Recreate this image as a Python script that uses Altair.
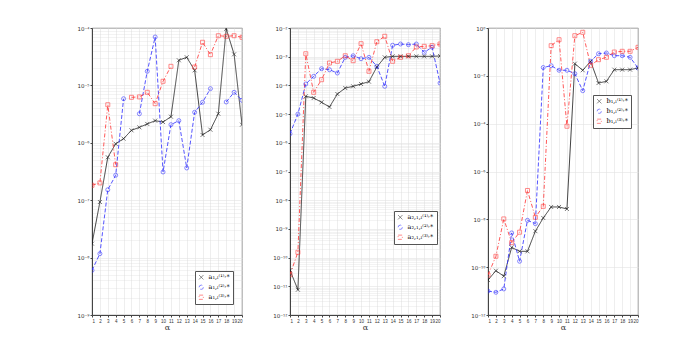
import altair as alt
import pandas as pd

alpha = list(range(1, 21))

# Panel 1 : a^(k),*_{1,L}
p1_black = [1.75e-8, 9.3e-8, 5.6e-7, 9.6e-7, 1.18e-6, 1.65e-6, 1.86e-6, 2.13e-6, 2.43e-6, 2.30e-6,
            2.85e-6, 2.74e-5, 3.09e-5, 1.83e-5, 1.37e-6, 1.69e-6, 3.21e-6, 9.7e-5, 3.48e-5, 2.07e-6]
p1_blue = [6.0e-9, 1.17e-8, 1.52e-7, 2.72e-7, 5.86e-6, None, 3.21e-6, 1.76e-5, 6.97e-5, 3.10e-7,
           2.07e-6, 2.43e-6, 3.64e-7, 3.40e-6, 5.08e-6, 8.77e-6, None, 5.14e-6, 7.58e-6, 5.50e-6]
p1_red = [1.82e-7, 2.0e-7, 4.61e-6, 4.15e-7, None, 6.2e-6, 6.3e-6, 7.58e-6, 4.8e-6, 1.18e-5,
          2.15e-5, None, None, 2.09e-5, 5.64e-5, 3.43e-5, 7.34e-5, 7.16e-5, 7.34e-5, 6.89e-5]

# Panel 2 : a^(k),*_{2,1,L}
p2_black = [3.6e-11, 7.6e-12, 4.17e-5, 3.64e-5, 2.58e-5, 1.77e-5, 5.0e-5, 8.1e-5, 9.3e-5, 1.12e-4,
            1.35e-4, 4.38e-4, 9.5e-4, 1.03e-3, 1.03e-3, 1.03e-3, 1.03e-3, 1.03e-3, 1.03e-3, 1.06e-3]
p2_blue = [2.07e-6, 1.0e-5, 1.12e-4, 2.07e-4, 3.82e-4, 3.52e-4, 2.70e-4, 9.5e-4, 1.08e-3, 8.5e-4,
           9.5e-4, 4.63e-4, 9.3e-5, 2.5e-3, 2.77e-3, 2.62e-3, 2.77e-3, 1.42e-3, 2.13e-3, 1.21e-4]
p2_red = [2.54e-11, 1.53e-10, 1.27e-3, 5.75e-5, 1.58e-4, 6.03e-4, 6.92e-4, 1.08e-3, 7.26e-4, 2.84e-3,
          3.1e-4, 3.33e-3, 5.14e-3, 6.92e-4, 9.5e-4, 1.08e-3, 2.18e-3, 2.30e-3, 2.42e-3, 2.77e-3]

# Panel 3 : b^(k),*_{1,L}
p3_black = [2.9e-11, 7.1e-11, 4.2e-11, 6.7e-10, 4.6e-10, 4.6e-10, 3.2e-9, 1.14e-8, 3.29e-8, 3.29e-8,
            2.71e-8, 3.22e-2, 1.71e-2, 4.05e-2, 5.0e-3, 5.9e-3, 1.81e-2, 1.81e-2, 1.81e-2, 2.13e-2]
p3_blue = [1.0e-11, 8.9e-12, 1.23e-11, 2.7e-9, 1.77e-10, 9.1e-9, 6.6e-9, 2.23e-2, 2.65e-2, 1.71e-2,
           1.71e-2, 1.23e-2, 2.39e-3, 4.05e-2, 8.4e-2, 9.0e-2, 6.95e-2, 6.95e-2, 5.96e-2, 2.13e-2]
p3_red = [4.7e-11, 2.86e-10, 1.04e-8, 1.06e-9, 2.9e-9, 1.61e-7, 1.22e-8, 3.5e-8, 0.182, 0.324,
          7.8e-5, 0.477, 0.661, 2.76e-2, 4.73e-2, 5.96e-2, 9.9e-2, 0.106, 0.106, 0.156]

p1_labels = ["a₁,ₗ⁽¹⁾˒*", "a₁,ₗ⁽²⁾˒*", "a₁,ₗ⁽³⁾˒*"]
p2_labels = ["a₂,₁,ₗ⁽¹⁾˒*", "a₂,₁,ₗ⁽²⁾˒*", "a₂,₁,ₗ⁽³⁾˒*"]
p3_labels = ["b₁,ₗ⁽¹⁾˒*", "b₁,ₗ⁽²⁾˒*", "b₁,ₗ⁽³⁾˒*"]

p1_exps = [-9, -8, -7, -6, -5, -4]
p2_exps = list(range(-12, -1))
p3_exps = [-12, -10, -8, -6, -4, -2, 0]

COLORS = ["#111111", "#2a2aff", "#ff3030"]
DASHES = [[1, 0], [4, 2], [4, 2, 1, 2]]
SHAPES = ["M-1,-1L1,1M-1,1L1,-1", "circle", "square"]

SUP = str.maketrans("-0123456789", "⁻⁰¹²³⁴⁵⁶⁷⁸⁹")


def label_expr(exps):
    parts = [f"round(log(datum.value)/LN10)=={e} ? '10{str(e).translate(SUP)}'" for e in exps]
    return " : ".join(parts) + " : ''"


def build_df(series_list, labels):
    rows = []
    for values, lab in zip(series_list, labels):
        seg = 0
        for a, v in zip(alpha, values):
            if v is None:
                seg += 1
                continue
            rows.append({"alpha": a, "value": v, "series": lab, "seg": f"{lab}-{seg}"})
    return pd.DataFrame(rows)


def panel(series_list, labels, exps, minor, lx, ly):
    df = build_df(series_list, labels)
    dom = [10.0 ** min(exps), 10.0 ** max(exps)]
    major = [10.0 ** e for e in exps]
    legend = alt.Legend(orient="none", legendX=lx, legendY=ly, title=None)
    xenc = alt.X("alpha:Q", scale=alt.Scale(domain=[1, 20], nice=False, zero=False),
                 axis=alt.Axis(values=alpha, title="α", grid=True, format="d",
                               tickSize=2, labelPadding=1, titlePadding=1,
                               labelOverlap=False, labelFontSize=4.5,
                               labelFont="Liberation Sans"))
    yscale = alt.Scale(type="log", domain=dom, nice=False)
    color = alt.Color("series:N", scale=alt.Scale(domain=labels, range=COLORS), legend=legend)
    base = alt.Chart(df)
    lines = base.mark_line(strokeWidth=0.8, clip=True).encode(
        x=xenc,
        y=alt.Y("value:Q", scale=yscale,
                axis=alt.Axis(values=major, labelExpr=label_expr(exps), title=None,
                              grid=True, minExtent=22, maxExtent=22, tickSize=2,
                              labelPadding=1, labelOverlap=False)),
        color=color,
        strokeDash=alt.StrokeDash("series:N", scale=alt.Scale(domain=labels, range=DASHES),
                                  legend=legend),
        detail="seg:N",
    )
    if minor:
        minor_vals = [m * 10.0 ** e for e in exps[:-1] for m in range(2, 10)]
        yaxis2 = alt.Axis(values=minor_vals, orient="right", labels=False, ticks=False,
                          domain=False, grid=True, gridDash=[1, 1], gridColor="#d6d6d6",
                          title=None, minExtent=0, maxExtent=0)
    else:
        yaxis2 = alt.Axis(values=major, orient="right", labels=False, ticks=False,
                          domain=False, grid=False, title=None, minExtent=0, maxExtent=0)
    points = base.mark_point(filled=False, size=16, strokeWidth=0.8, clip=True).encode(
        x=xenc,
        y=alt.Y("value:Q", scale=yscale, axis=yaxis2),
        color=color,
        shape=alt.Shape("series:N", scale=alt.Scale(domain=labels, range=SHAPES), legend=legend),
    )
    return alt.layer(lines, points).resolve_axis(y="independent").properties(width=150, height=287)


c1 = panel([p1_black, p1_blue, p1_red], p1_labels, p1_exps, True, 103, 243)
c2 = panel([p2_black, p2_blue, p2_red], p2_labels, p2_exps, True, 104, 183)
c3 = panel([p3_black, p3_blue, p3_red], p3_labels, p3_exps, False, 105, 67)

chart = (
    alt.hconcat(c1, c2, c3, spacing=24)
    .resolve_scale(color="independent", shape="independent", strokeDash="independent")
    .resolve_legend(color="independent", shape="independent", strokeDash="independent")
    .properties(padding={"left": 61, "top": 17, "right": 10, "bottom": 5})
    .configure_view(stroke="#444444", strokeWidth=0.8)
    .configure_axis(labelFont="DejaVu Sans", labelFontSize=5.5, labelColor="#333333",
                    gridColor="#e3e3e3", gridWidth=0.6, domainColor="#444444",
                    tickColor="#444444", titleFont="DejaVu Serif", titleFontSize=8,
                    titleFontWeight="normal", titleColor="#333333")
    .configure_legend(strokeColor="#555555", fillColor="white", padding=3, cornerRadius=0,
                      labelFont="DejaVu Serif", labelFontSize=6.5, symbolSize=18,
                      symbolStrokeWidth=0.8, rowPadding=2, labelLimit=60)
)

chart.save("out.html", embed_options={"renderer": "svg", "actions": False})
